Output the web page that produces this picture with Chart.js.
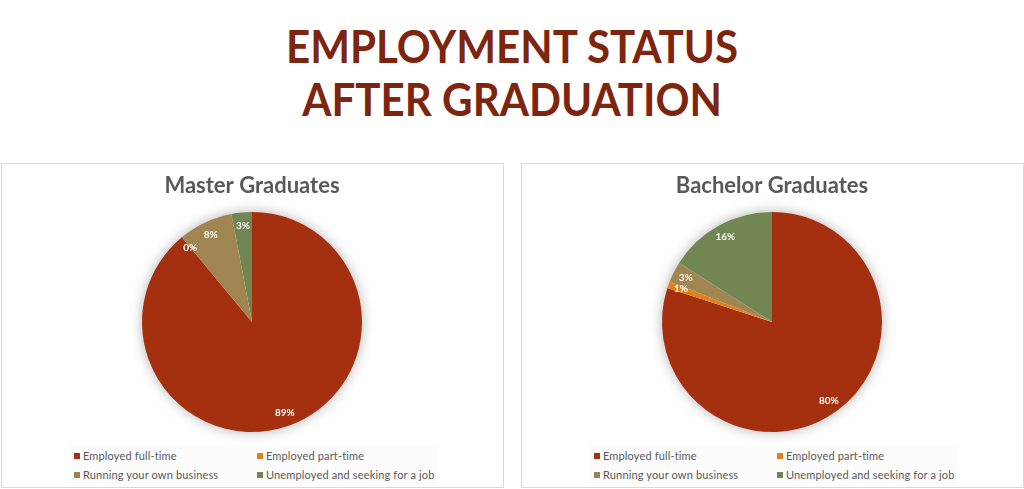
<!DOCTYPE html>
<html>
<head>
<meta charset="utf-8">
<script src="https://cdn.jsdelivr.net/npm/chart.js@4"></script>
<style>
  html, body { margin: 0; padding: 0; background: #ffffff; }
  body { width: 1024px; height: 489px; position: relative; overflow: hidden; font-family: "Lato", "Open Sans", sans-serif; }
  #title { position: absolute; left: 0; top: 19px; width: 1024px; text-align: center; }
  #title span { display: inline-block; color: #7E2510; font-family: "Lato", sans-serif; font-weight: 700; font-size: 46px;
           line-height: 53px; letter-spacing: 0; transform: scaleX(0.915); transform-origin: 50% 50%; }
  .panel { position: absolute; top: 163px; width: 501px; height: 323px; border: 1px solid #d9d9d9; }
  .panel canvas { position: absolute; left: 0; top: 0; }
  .legend { position: absolute; top: 281px; left: 68px; width: 368px; height: 40px; background: #fcfcfc; }
  .item { position: absolute; font-size: 11px; color: #595959; white-space: nowrap; line-height: 14px; font-family: "Lato", sans-serif; letter-spacing: 0.15px; }
  .item i { display: inline-block; width: 6px; height: 6px; margin-right: 3px; vertical-align: 1px; }
</style>
</head>
<body>
<div id="title"><span>EMPLOYMENT STATUS<br>AFTER GRADUATION</span></div>
<div class="panel" id="p1" style="left:1px;"><canvas id="c1" width="501" height="323"></canvas><div class="legend" id="l1"></div></div>
<div class="panel" id="p2" style="left:521px;"><canvas id="c2" width="501" height="323"></canvas><div class="legend" id="l2"></div></div>
<script>
const categories = ["Employed full-time", "Employed part-time", "Running your own business", "Unemployed and seeking for a job"];
const masterValues = [89, 0, 8, 3];
const bachelorValues = [80, 1, 3, 16];
const chartTitles = ["Master Graduates", "Bachelor Graduates"];
const sliceColors = ["#A5300F", "#E0801A", "#A08552", "#728653"];

const shadowPlugin = {
  id: 'pieShadow',
  beforeDatasetsDraw(chart) {
    const arc = chart.getDatasetMeta(0).data[0];
    if (!arc) return;
    const p = arc.getProps(['x', 'y', 'outerRadius'], true);
    const ctx = chart.ctx;
    ctx.save();
    ctx.shadowColor = 'rgba(0,0,0,0.35)';
    ctx.shadowBlur = 14;
    ctx.shadowOffsetX = 0;
    ctx.shadowOffsetY = 0;
    ctx.fillStyle = '#ffffff';
    ctx.beginPath();
    ctx.arc(p.x, p.y, p.outerRadius - 1, 0, Math.PI * 2);
    ctx.fill();
    ctx.restore();
  }
};

const labelPlugin = {
  id: 'sliceLabels',
  afterDatasetsDraw(chart) {
    const ctx = chart.ctx;
    const values = chart.data.datasets[0].data;
    chart.getDatasetMeta(0).data.forEach((arc, i) => {
      const p = arc.getProps(['x', 'y', 'startAngle', 'endAngle', 'outerRadius'], true);
      const mid = (p.startAngle + p.endAngle) / 2;
      const r = p.outerRadius * 0.88;
      ctx.save();
      ctx.fillStyle = '#ffffff';
      ctx.font = 'bold 10px "Lato", sans-serif';
      ctx.textAlign = 'center';
      ctx.textBaseline = 'middle';
      ctx.fillText(values[i] + '%', p.x + Math.cos(mid) * r, p.y + Math.sin(mid) * r);
      ctx.restore();
    });
  }
};

function makeChart(canvasId, legendId, titleText, values) {
  new Chart(document.getElementById(canvasId), {
    type: 'pie',
    data: {
      labels: categories,
      datasets: [{ data: values, backgroundColor: sliceColors, borderWidth: 0, hoverOffset: 0 }]
    },
    options: {
      responsive: false,
      animation: false,
      layout: { padding: { left: 140, right: 141, top: 0, bottom: 55 } },
      plugins: {
        legend: { display: false },
        tooltip: { enabled: false },
        title: {
          display: true,
          text: titleText,
          color: '#595959',
          font: { family: '"Lato", sans-serif', size: 22, weight: 'bold', lineHeight: 1.2 },
          padding: { top: 9, bottom: 12.6 }
        }
      }
    },
    plugins: [shadowPlugin, labelPlugin]
  });
  const lg = document.getElementById(legendId);
  const pos = [[4, 4], [187, 4], [4, 23], [187, 23]];
  categories.forEach((c, i) => {
    const d = document.createElement('div');
    d.className = 'item';
    d.style.left = pos[i][0] + 'px';
    d.style.top = pos[i][1] + 'px';
    d.innerHTML = '<i style="background:' + sliceColors[i] + '"></i>';
    d.appendChild(document.createTextNode(c));
    lg.appendChild(d);
  });
}

makeChart('c1', 'l1', chartTitles[0], masterValues);
makeChart('c2', 'l2', chartTitles[1], bachelorValues);
</script>
</body>
</html>
